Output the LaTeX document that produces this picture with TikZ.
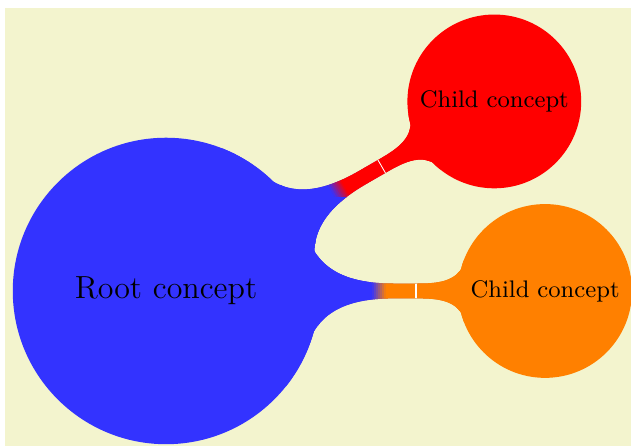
\documentclass[tikz,border=0pt]{standalone}
\usetikzlibrary{mindmap}
\definecolor{bgyellow}{RGB}{243,244,206}
\colorlet{rootblue}{blue!80}
\newcommand\mmtree[4]{%
  \begin{scope}[concept color=#1]
    \node[concept] (#4root) {Root concept}
      child[concept color=#2, grow=30] {node[concept] (#4c1) {Child concept}}
      child[concept color=#3, grow=0] {node[concept] (#4c2) {Child concept}};
  \end{scope}}
\newcommand\mmstrip[6]{%
  \begin{scope}
    \clip[rotate=#1] (#2pt,#4pt) -- (#3pt,#4pt) -- (#3pt,#5pt) -- (#2pt,#5pt) -- cycle;
    \mmtree{#6}{#6}{#6}{s}
  \end{scope}}
\begin{document}
\begin{tikzpicture}[mindmap]
\useasboundingbox (-62.3pt,-58.2pt) rectangle (174.5pt,109.2pt);
\fill[bgyellow] (-60.4pt,-58.2pt) rectangle (174.5pt,106.2pt);
\mmtree{rootblue}{red}{orange}{}
% bar to the red child
\mmstrip{30}{45}{72.5}{-35}{40}{rootblue}
\foreach \i in {0,...,6} {
  \pgfmathsetmacro\p{(\i+0.5)*100/7}
  \pgfmathsetmacro\xa{72.4+\i*5.3/7}
  \pgfmathsetmacro\xb{72.4+(\i+1)*5.3/7+0.1}
  \colorlet{stripc}{red!\p!rootblue}
  \mmstrip{30}{\xa}{\xb}{-35}{40}{stripc}
}
\mmstrip{30}{77.6}{112}{-35}{40}{red}
\mmstrip{30}{93.3}{93.62}{-35}{40}{white}
% bar to the orange child
\mmstrip{0}{45}{77.4}{-40}{35}{rootblue}
\foreach \i in {0,...,6} {
  \pgfmathsetmacro\p{(\i+0.5)*100/7}
  \pgfmathsetmacro\xa{77.3+\i*5.3/7}
  \pgfmathsetmacro\xb{77.3+(\i+1)*5.3/7+0.1}
  \colorlet{stripc}{orange!\p!rootblue}
  \mmstrip{0}{\xa}{\xb}{-40}{35}{stripc}
}
\mmstrip{0}{82.5}{112}{-40}{35}{orange}
\mmstrip{0}{93.7}{94.02}{-40}{35}{white}
\end{tikzpicture}
\end{document}
